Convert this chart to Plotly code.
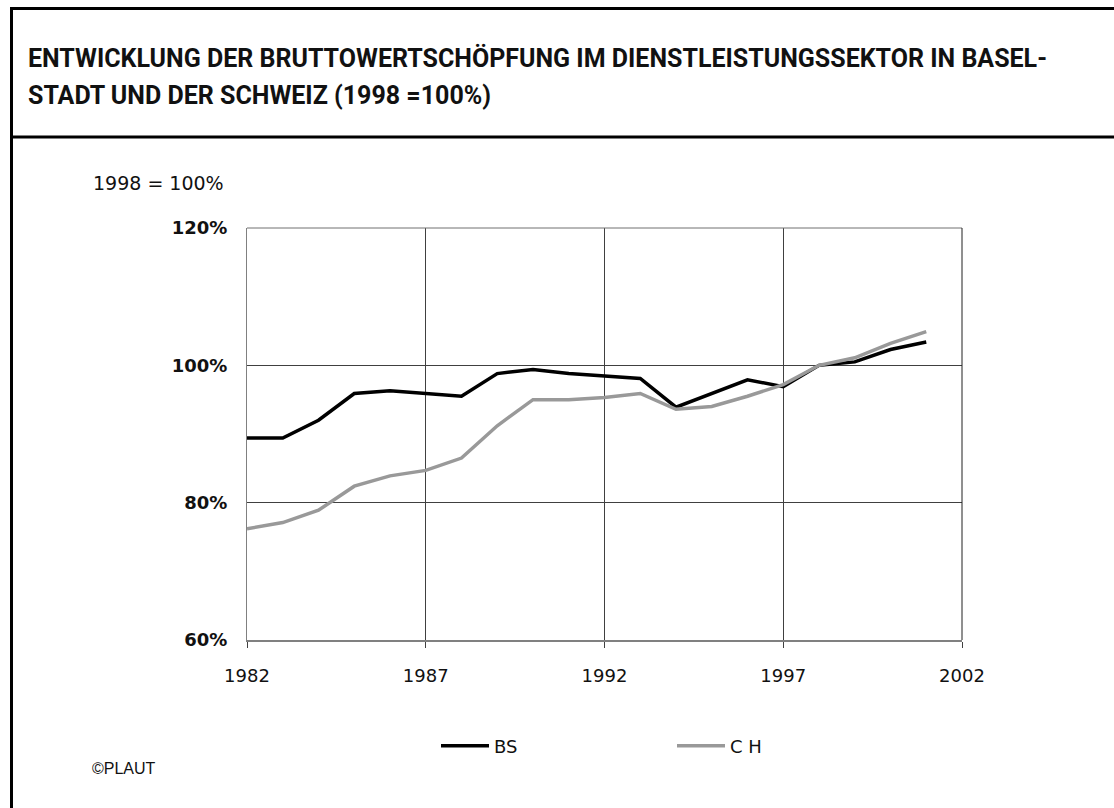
import plotly.graph_objects as go

# ---------------- data ----------------
years = list(range(1982, 2002))
bs_values = [89.4, 89.4, 92.0, 95.9, 96.3, 95.9, 95.5, 98.8, 99.4, 98.8,
             98.5, 98.1, 93.9, 95.9, 97.9, 96.9, 100.0, 100.5, 102.3, 103.4]
ch_values = [76.2, 77.1, 78.9, 82.4, 83.9, 84.7, 86.5, 91.2, 95.0, 95.0,
             95.3, 95.9, 93.6, 94.0, 95.5, 97.2, 100.0, 101.1, 103.2, 104.9]
series_names = ["BS", "C H"]
x_ticks = [1982, 1987, 1992, 1997, 2002]
y_ticks = [60, 80, 100, 120]
y_ticktext = ["60%", "80%", "100%", "120%"]
title_line1 = "ENTWICKLUNG DER BRUTTOWERTSCHÖPFUNG IM DIENSTLEISTUNGSSEKTOR IN BASEL-"
title_line2 = "STADT UND DER SCHWEIZ (1998 =100%)"
unit_label = "1998 = 100%"
credit = "©PLAUT"

# ---------------- geometry helpers ----------------
W_FIG, H_FIG = 1114, 808
L, R, T, B = 247, 962, 228, 640
PW, PH = R - L, B - T


def px(x):
    return (x - L) / PW


def py(y):
    return (B - y) / PH


fig = go.Figure()
fig.add_trace(go.Scatter(x=years, y=bs_values, mode="lines", name=series_names[0],
                         line=dict(color="#000000", width=3.5)))
fig.add_trace(go.Scatter(x=years, y=ch_values, mode="lines", name=series_names[1],
                         line=dict(color="#999999", width=3.5)))

shapes = [
    # outer frame
    dict(type="line", xref="paper", yref="paper", x0=px(11.5), x1=px(11.5), y0=py(7), y1=py(815),
         line=dict(color="black", width=3)),
    dict(type="line", xref="paper", yref="paper", x0=px(10), x1=px(1120), y0=py(8.5), y1=py(8.5),
         line=dict(color="black", width=3)),
    dict(type="line", xref="paper", yref="paper", x0=px(10), x1=px(1120), y0=py(137), y1=py(137),
         line=dict(color="black", width=3)),
    # plot top and right edges
    dict(type="line", xref="paper", yref="paper", x0=0, x1=1, y0=1, y1=1,
         line=dict(color="#707070", width=1)),
    dict(type="line", xref="paper", yref="paper", x0=1, x1=1, y0=0, y1=1,
         line=dict(color="#202020", width=1)),
]

annotations = [
    dict(text="<b>" + title_line1 + "</b>", xref="paper", yref="paper", x=px(26), y=py(57.5),
         xanchor="left", yanchor="middle", showarrow=False,
         font=dict(family="Roboto", size=25, color="#111111")),
    dict(text="<b>" + title_line2 + "</b>", xref="paper", yref="paper", x=px(26), y=py(95),
         xanchor="left", yanchor="middle", showarrow=False,
         font=dict(family="Roboto", size=25, color="#111111")),
    dict(text=unit_label, xref="paper", yref="paper", x=px(91), y=py(182.5),
         xanchor="left", yanchor="middle", showarrow=False,
         font=dict(family="DejaVu Sans", size=19, color="#111111")),
    dict(text=credit, xref="paper", yref="paper", x=px(90), y=py(768),
         xanchor="left", yanchor="middle", showarrow=False,
         font=dict(family="Liberation Sans", size=16, color="#111111")),
]

fig.update_layout(
    width=W_FIG, height=H_FIG, autosize=False,
    margin=dict(l=L, r=W_FIG - R, t=T, b=H_FIG - B, pad=0),
    paper_bgcolor="white", plot_bgcolor="white",
    shapes=shapes, annotations=annotations,
    showlegend=True,
    legend=dict(orientation="h", x=px(436), y=py(746), xanchor="left", yanchor="middle",
                font=dict(family="DejaVu Sans", size=18, color="#111111"),
                itemwidth=48, entrywidth=173, entrywidthmode="pixels",
                bgcolor="rgba(0,0,0,0)", borderwidth=0),
    xaxis=dict(range=[1982, 2002], tickvals=x_ticks, ticktext=[str(v) for v in x_ticks],
               showgrid=True, gridcolor="#404040", gridwidth=1,
               ticks="outside", ticklen=6, tickcolor="#404040", tickwidth=1,
               showline=True, linecolor="#808080", linewidth=2, zeroline=False,
               ticklabelstandoff=12,
               tickfont=dict(family="DejaVu Sans", size=18, color="#111111")),
    yaxis=dict(range=[60, 120], tickvals=y_ticks, ticktext=y_ticktext,
               showgrid=True, gridcolor="#404040", gridwidth=1,
               ticks="", showline=True, linecolor="#808080", linewidth=1, zeroline=False,
               ticklabelstandoff=15,
               tickfont=dict(family="DejaVu Sans", size=18, color="#111111", weight="bold")),
)

fig.write_html("out.html", config={"displayModeBar": False},
               post_script="document.body.style.margin='0';")
